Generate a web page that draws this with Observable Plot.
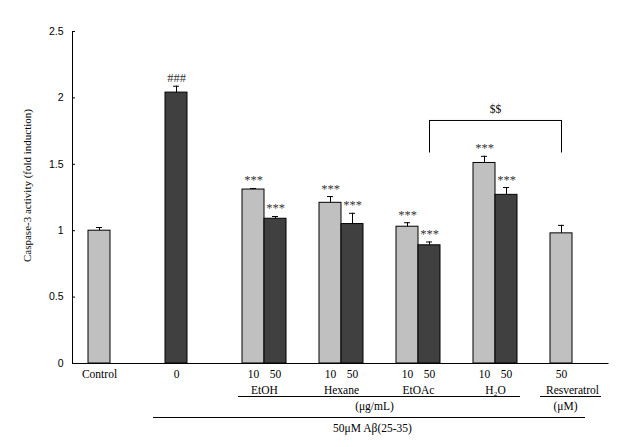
<!DOCTYPE html>
<html>
<head>
<meta charset="utf-8">
<script src="https://cdn.jsdelivr.net/npm/d3@7"></script>
<script src="https://cdn.jsdelivr.net/npm/@observablehq/plot@0.6"></script>
<style>
  body { margin: 0; background: #fff; }
  #chart svg { display: block; }
</style>
</head>
<body>
<div id="chart"></div>
<script>
// ---- data ----
const groups = ["Control", "0", "EtOH", "Hexane", "EtOAc", "H2O", "Resveratrol"];
const groupNames = ["", "", "EtOH", "Hexane", "EtOAc", "H\u2082O", "Resveratrol"];
const barGroup = ["Control", "0", "EtOH", "EtOH", "Hexane", "Hexane", "EtOAc", "EtOAc", "H2O", "H2O", "Resveratrol"];
const barSlot = [0, 0, 0, 1, 0, 1, 0, 1, 0, 1, 0];
const barSeries = ["light", "dark", "light", "dark", "light", "dark", "light", "dark", "light", "dark", "light"];
const doseLabels = ["Control", "0", "10", "50", "10", "50", "10", "50", "10", "50", "50"];
const values = [1.00, 2.04, 1.31, 1.09, 1.21, 1.05, 1.03, 0.89, 1.51, 1.27, 0.98];
const errors = [0.024, 0.048, 0.008, 0.017, 0.047, 0.081, 0.03, 0.025, 0.05, 0.055, 0.06];
const sigLabels = ["", "###", "***", "***", "***", "***", "***", "***", "***", "***", ""];
const yTicks = [0, 0.5, 1, 1.5, 2, 2.5];
const yLabel = "Caspase-3 activity (fold induction)";
const bracket = [{from: "EtOAc", to: "Resveratrol", mid: "H2O", y1: 1.585, y2: 1.83, label: "$$"}];
const unitLabels = [{text: "(\u03bcg/mL)", from: "EtOH", to: "H2O", at: "Hexane"},
                    {text: "(\u03bcM)", from: "Resveratrol", to: "Resveratrol", at: "Resveratrol"}];
const treatment = [{text: "50\u03bcM A\u03b2(25-35)", from: "0", to: "Resveratrol", at: "Hexane"}];

// ---- layout ----
const W = 624, H = 447, mL = 72, mR = 16, mT = 31, mB = 84;
const BAND = 44, BAR = 22, CAP = 6;
const FW = W - mL - mR, FH = H - mT - mB;
const serif = "'Liberation Serif', 'Times New Roman', serif";
const sans = "'Liberation Sans', Arial, sans-serif";

const bars = barGroup.map((g, i) => ({
  group: g, slot: barSlot[i], series: barSeries[i], dose: doseLabels[i],
  value: values[i], err: errors[i], sig: sigLabels[i]
}));
const groupRows = groups.map((g, i) => ({group: g, name: groupNames[i]})).filter(d => d.name);

function slotMarks(slot) {
  const d = bars.filter(b => b.slot === slot);
  const c = BAR / 2 + slot * BAR;          // bar centre inside band
  const off = c - BAND / 2;                 // offset from band centre
  return [
    Plot.barY(d, {x: "group", y: "value", fill: "series", stroke: "black", strokeWidth: 1,
      insetLeft: slot * BAR, insetRight: BAND - BAR - slot * BAR}),
    Plot.ruleX(d, {x: "group", y1: "value", y2: b => b.value + b.err, dx: off, stroke: "black"}),
    Plot.tickY(d, {x: "group", y: b => b.value + b.err, stroke: "black",
      insetLeft: c - CAP / 2, insetRight: BAND - c - CAP / 2}),
    Plot.text(d, {x: "group", y: b => b.value + b.err, text: "sig", dx: off, dy: -4,
      lineAnchor: "bottom", fontSize: 12.5, fill: "#333"}),
    Plot.text(d, {x: "group", text: "dose", frameAnchor: "bottom", dx: off, dy: 10.5,
      lineAnchor: "middle", fontSize: 11.5})
  ];
}

const chart = Plot.plot({
  width: W, height: H,
  marginLeft: mL, marginRight: mR, marginTop: mT, marginBottom: mB,
  style: {fontFamily: serif, fontSize: "11px", background: "#fff", color: "black"},
  x: {type: "band", domain: groups, paddingInner: 3 / 7, paddingOuter: 0.1948, align: 0.533, axis: null},
  y: {domain: [0, 2.5], axis: null},
  color: {domain: ["light", "dark"], range: ["#c0c0c0", "#404040"]},
  marks: [
    ...slotMarks(0),
    ...slotMarks(1),
    // axes: left + bottom lines of the frame
    Plot.frame({stroke: "black", strokeDasharray: `0 ${FW + FH} ${FW + FH}`}),
    Plot.tickY(yTicks, {y: d => d, stroke: "black", insetRight: FW - 3}),
    Plot.axisY({ticks: yTicks, tickSize: 0, tickPadding: 9, tickFormat: d => String(d),
      fontFamily: sans, fontSize: 10.5, label: null}),
    Plot.text([yLabel], {text: d => d, frameAnchor: "left", textAnchor: "middle", rotate: -90,
      dx: -45, dy: -12, fontSize: 11}),
    // group names
    Plot.text(groupRows, {x: "group", text: "name", frameAnchor: "bottom", dy: 26.5,
      lineAnchor: "middle", fontSize: 11.5}),
    // unit underlines and labels
    Plot.ruleY(unitLabels.slice(0, 1), {x1: "from", x2: "to", y: () => 0, dy: 33, stroke: "black",
      insetLeft: -4, insetRight: -3}),
    Plot.ruleY(unitLabels.slice(1), {x1: "from", x2: "to", y: () => 0, dy: 33, stroke: "black",
      insetLeft: -10, insetRight: -7}),
    Plot.text(unitLabels.slice(0, 1), {x: "at", text: "text", frameAnchor: "bottom", dx: 33, dy: 43,
      lineAnchor: "middle", fontSize: 11.5}),
    Plot.text(unitLabels.slice(1), {x: "at", text: "text", frameAnchor: "bottom", dx: -7, dy: 43,
      lineAnchor: "middle", fontSize: 11.5}),
    // treatment line
    Plot.ruleY(treatment, {x1: "from", x2: "to", y: () => 0, dy: 54, stroke: "black",
      insetLeft: -12, insetRight: 9}),
    Plot.text(treatment, {x: "at", text: "text", frameAnchor: "bottom", dx: 31, dy: 65,
      lineAnchor: "middle", fontSize: 11.5}),
    // $$ bracket
    Plot.ruleY(bracket, {x1: "from", x2: "to", y: "y2", stroke: "black",
      insetLeft: BAND / 2 + BAR / 2 , insetRight: BAND / 2 + BAR / 2}),
    Plot.ruleX(bracket, {x: "from", y1: "y1", y2: "y2", dx: BAR / 2, stroke: "black"}),
    Plot.ruleX(bracket, {x: "to", y1: "y1", y2: "y2", dx: -BAR / 2, stroke: "black"}),
    Plot.text(bracket, {x: "mid", y: "y2", text: "label", dy: -11, lineAnchor: "middle", fontSize: 11.5})
  ]
});
document.getElementById("chart").append(chart);
</script>
</body>
</html>
